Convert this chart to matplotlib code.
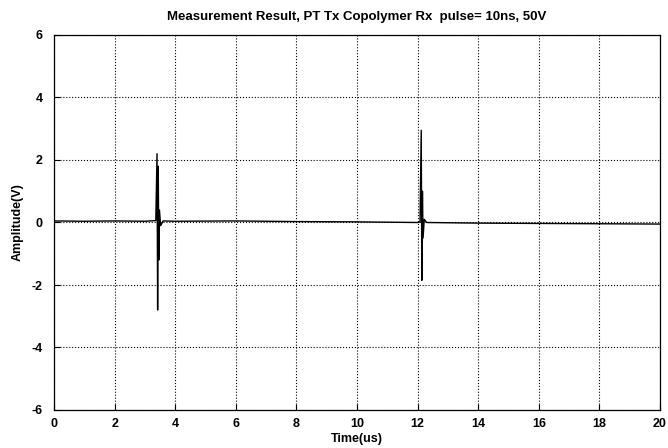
import matplotlib
matplotlib.use('Agg')
import matplotlib.pyplot as plt

plt.rcParams['font.family'] = ['Liberation Sans', 'DejaVu Sans']
plt.rcParams['axes.unicode_minus'] = False

# Received waveform
time_us = [0.0, 1.0, 2.0, 3.0, 3.36, 3.40, 3.42, 3.44, 3.46, 3.48, 3.52, 3.60,
           4.0, 6.0, 8.0, 10.0, 12.0, 12.08, 12.12, 12.14, 12.16, 12.18, 12.22,
           12.30, 14.0, 16.0, 18.0, 20.0]
amp_v = [0.05, 0.04, 0.05, 0.04, 0.06, 2.2, -2.8, 1.8, -1.2, 0.4, -0.1, 0.05,
         0.04, 0.05, 0.03, 0.02, 0.0, 0.02, 2.95, -1.85, 1.0, -0.5, 0.1,
         0.0, -0.02, -0.03, -0.04, -0.05]

xticks = [0, 2, 4, 6, 8, 10, 12, 14, 16, 18, 20]
yticks = [-6, -4, -2, 0, 2, 4, 6]

fig = plt.figure(figsize=(6.68, 4.48), dpi=100)
ax = fig.add_axes([54 / 668, 1 - 410 / 448, 606 / 668, 375 / 448])

ax.plot(time_us, amp_v, color='black', linewidth=1.0)

ax.set_xlim(0, 20)
ax.set_ylim(-6, 6)
ax.set_xticks(xticks)
ax.set_yticks(yticks)
ax.grid(True, color='black', linestyle=':', linewidth=0.8)
ax.tick_params(direction='in', length=4, labelsize=9, colors='black')
ax.tick_params(axis='x', pad=6)
ax.tick_params(axis='y', pad=8)
for s in ax.spines.values():
    s.set_color('black')
    s.set_linewidth(0.9)

ax.set_title('Measurement Result, PT Tx Copolymer Rx  pulse= 10ns, 50V',
             fontsize=9.5, fontweight='bold', pad=11)
ax.set_xlabel('Time(us)', fontsize=9, fontweight='bold', labelpad=2)
ax.set_ylabel('Amplitude(V)', fontsize=9, fontweight='bold', labelpad=6)
for lbl in ax.get_xticklabels() + ax.get_yticklabels():
    lbl.set_fontweight('bold')

fig.savefig('out.png', dpi=100)
